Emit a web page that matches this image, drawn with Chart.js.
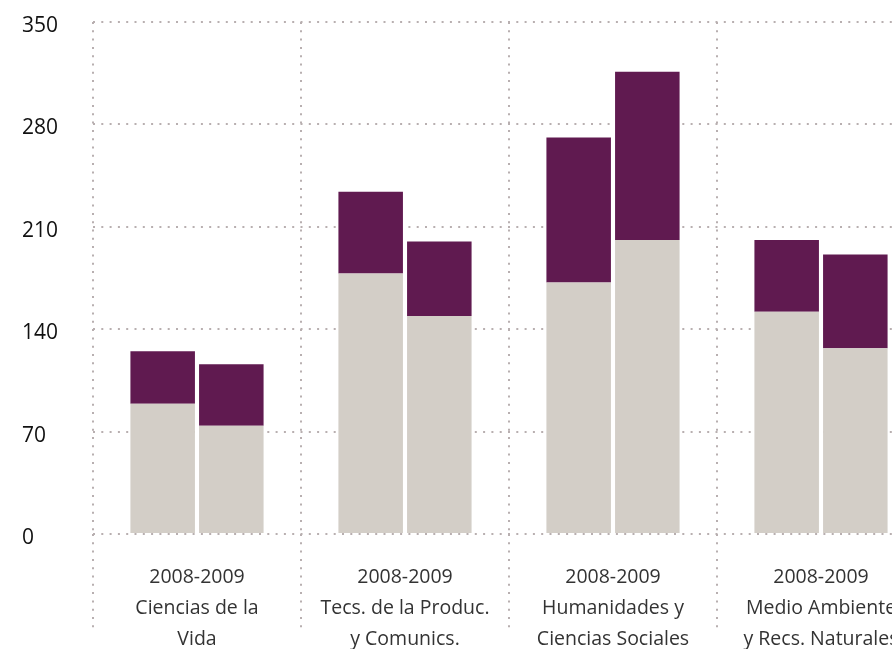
<!DOCTYPE html>
<html>
<head>
<meta charset="utf-8">
<script src="https://cdn.jsdelivr.net/npm/chart.js@4/dist/chart.umd.min.js"></script>
<style>
  body { margin: 0; overflow: hidden; background: #fff; }
  #wrap { width: 925px; height: 649px; }
</style>
</head>
<body>
<div id="wrap"><canvas id="chart"></canvas></div>
<script>
// categories (first line is the school year)
const areas = [
    ['2008-2009', 'Ciencias de la', 'Vida'],
    ['2008-2009', 'Tecs. de la Produc.', 'y Comunics.'],
    ['2008-2009', 'Humanidades y', 'Ciencias Sociales'],
    ['2008-2009', 'Medio Ambiente', 'y Recs. Naturales']
]
// left bar of each pair
const baseA = [89, 178, 172, 152]
const topA = [36, 56, 99, 49]
// right bar of each pair
const baseB = [74, 149, 201, 127]
const topB = [42, 51, 115, 64]
const yTicks = [0, 70, 140, 210, 280, 350]

const grey = '#d3cec7'
const purple = '#601a50'
const dots = '#b8afb0'

const bar = (data, color, stack) => ({
    data: data,
    backgroundColor: color,
    stack: stack,
    borderWidth: 0,
    categoryPercentage: 0.66,
    barPercentage: 0.94
})

new Chart(document.getElementById('chart'), {
    type: 'bar',
    data: {
        labels: areas,
        datasets: [
            bar(baseA, grey, 'a'),
            bar(topA, purple, 'a'),
            bar(baseB, grey, 'b'),
            bar(topB, purple, 'b')
        ]
    },
    options: {
        responsive: true,
        maintainAspectRatio: false,
        animation: false,
        layout: { padding: { left: 22, top: 22, right: 0, bottom: 0 } },
        plugins: {
            legend: { display: false },
            tooltip: { enabled: false }
        },
        scales: {
            x: {
                stacked: true,
                grid: {
                    color: dots,
                    lineWidth: 2,
                    offset: true,
                    drawTicks: true,
                    tickLength: 96,
                    tickColor: dots,
                    tickWidth: 2,
                    tickBorderDash: [2, 6.3]
                },
                border: { display: false, dash: [2, 6.3] },
                ticks: {
                    color: '#333',
                    font: { family: 'Open Sans', size: 19.5, lineHeight: 1.59 },
                    padding: -68.5,
                    maxRotation: 0,
                    autoSkip: false
                },
                afterFit: (scale) => { scale.height = 115 }
            },
            y: {
                stacked: true,
                min: 0,
                max: 350,
                afterBuildTicks: (scale) => {
                    scale.ticks = yTicks.map(v => ({ value: v }))
                },
                grid: {
                    color: dots,
                    lineWidth: 2,
                    drawTicks: false
                },
                border: { display: false, dash: [2, 6.3] },
                ticks: {
                    color: '#111',
                    font: { family: 'Open Sans', size: 21 },
                    crossAlign: 'far',
                    labelOffset: 4
                },
                afterFit: (scale) => { scale.width = 71 }
            }
        }
    }
})
</script>
</body>
</html>
